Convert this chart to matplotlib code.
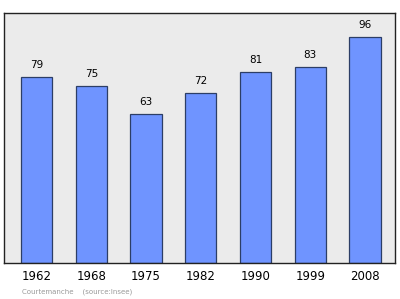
import numpy as np
import matplotlib.pyplot as plt

years = ['1962', '1968', '1975', '1982', '1990', '1999', '2008']
pop = [79, 75, 63, 72, 81, 83, 96]

fig = plt.figure(figsize=(4, 2.99), dpi=100)
ax = fig.add_axes([4/400, 1 - 263/299, 391/400, 250/299])
ax.set_facecolor('#ebebeb')

x = np.arange(len(years))
ax.bar(x, pop, width=0.57, color='#6f94ff', edgecolor='#2c3e66', linewidth=0.9, zorder=2)
for xi, v in zip(x, pop):
    ax.text(xi, v + 3, str(v), ha='center', va='bottom', fontsize=7.5, color='black')

ax.set_xlim(-0.594, 6.548)
ax.set_ylim(0, 106)
ax.set_yticks([])
ax.set_xticks(x)
ax.set_xticklabels(years, fontsize=8.5)
ax.tick_params(axis='x', length=0, pad=5)
for s in ax.spines.values():
    s.set_color('#222222')
    s.set_linewidth(1)

fig.text(22/400, 1 - 292/299, 'Courtemanche    (source:Insee)', fontsize=5, color='#999999', va='center')

fig.savefig('out.png', dpi=100)
